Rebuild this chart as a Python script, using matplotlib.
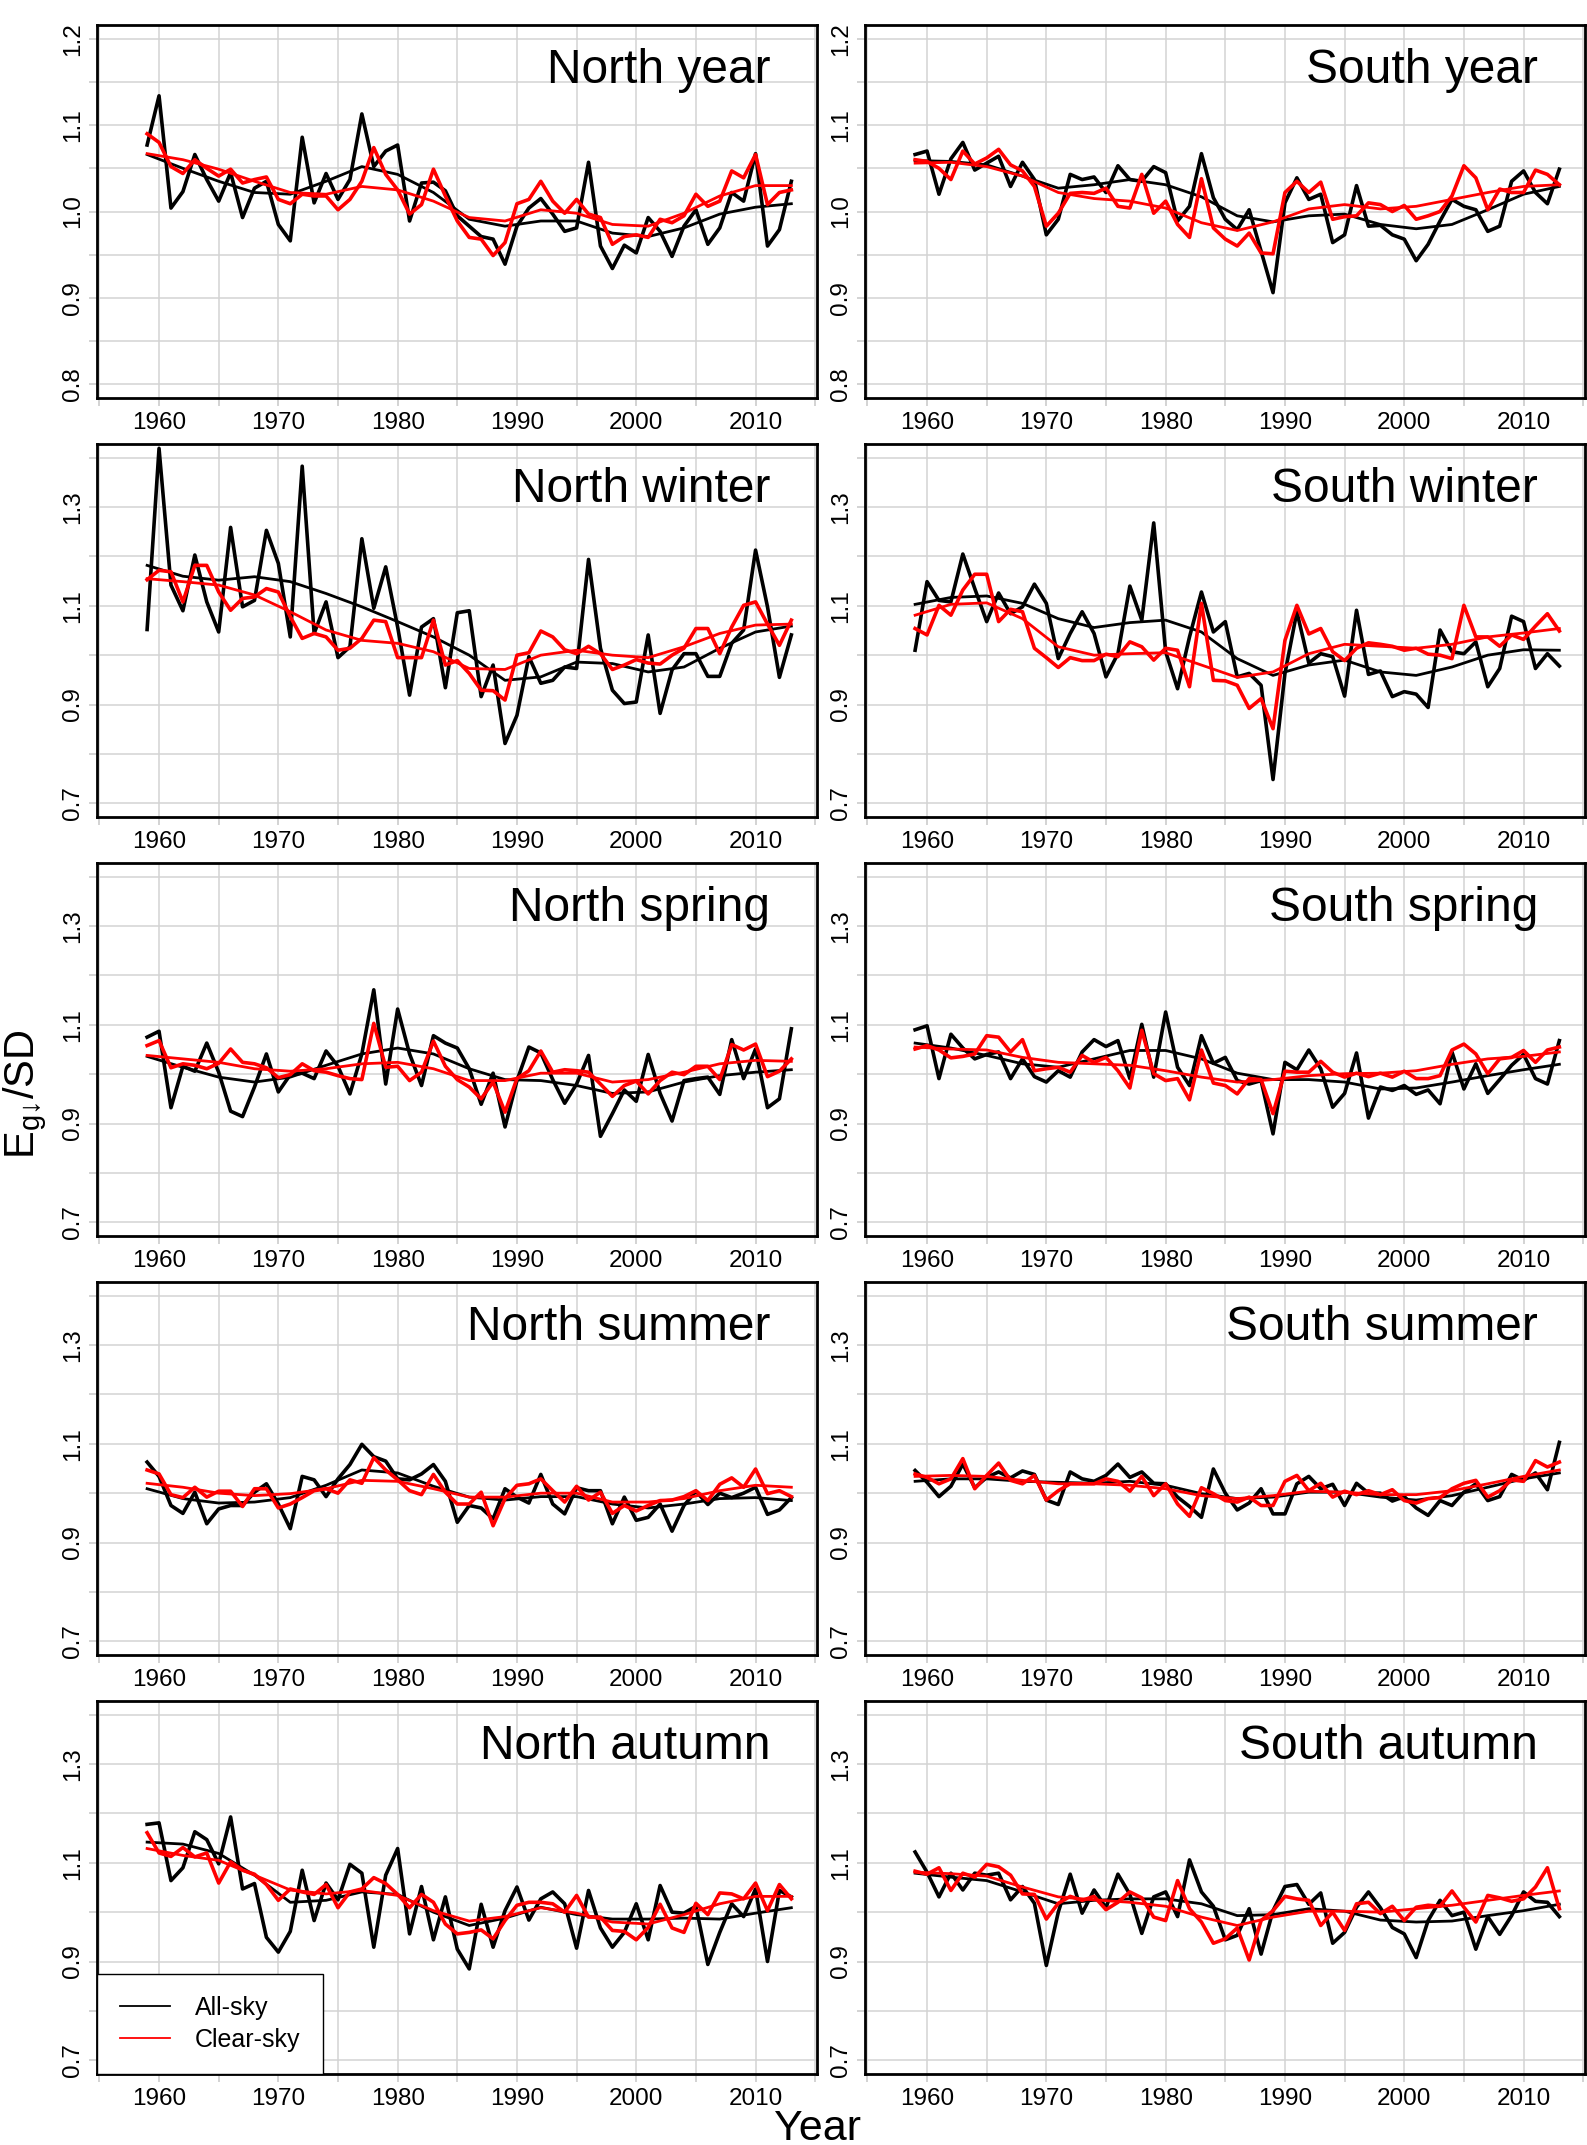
import numpy as np
import matplotlib
matplotlib.use('Agg')
import matplotlib.pyplot as plt
from matplotlib.lines import Line2D

plt.rcParams['font.family'] = ['Liberation Sans', 'DejaVu Sans']
plt.rcParams['mathtext.fontset'] = 'custom'
plt.rcParams['mathtext.rm'] = 'Liberation Sans'

years = np.arange(1959, 2014)
years_s = np.arange(1959, 2014, 3)

# North year
north_year_all = [1.077, 1.134, 1.004, 1.023, 1.066, 1.037, 1.012, 1.045, 0.993, 1.027,
                  1.035, 0.985, 0.966, 1.086, 1.010, 1.044, 1.014, 1.037, 1.113, 1.052,
                  1.070, 1.077, 0.989, 1.033, 1.034, 1.024, 0.995, 0.983, 0.971, 0.968,
                  0.939, 0.983, 1.004, 1.015, 0.997, 0.977, 0.981, 1.057, 0.960, 0.934,
                  0.961, 0.952, 0.993, 0.977, 0.948, 0.983, 1.002, 0.962, 0.981, 1.022,
                  1.012, 1.067, 0.960, 0.979, 1.035]
north_year_clear = [1.090, 1.080, 1.052, 1.044, 1.060, 1.050, 1.041, 1.049, 1.033, 1.037,
                    1.040, 1.014, 1.009, 1.020, 1.018, 1.018, 1.002, 1.014, 1.035, 1.074,
                    1.043, 1.025, 0.997, 1.008, 1.049, 1.018, 0.989, 0.970, 0.968, 0.949,
                    0.964, 1.009, 1.014, 1.035, 1.012, 0.998, 1.014, 0.997, 0.993, 0.962,
                    0.971, 0.973, 0.970, 0.991, 0.987, 0.995, 1.020, 1.006, 1.012, 1.047,
                    1.039, 1.066, 1.008, 1.022, 1.025]
north_year_all_s = [1.066, 1.050, 1.035, 1.022, 1.020, 1.035, 1.052, 1.043, 1.022, 0.991,
                    0.983, 0.989, 0.989, 0.975, 0.971, 0.981, 0.997, 1.005, 1.009]
north_year_clear_s = [1.067, 1.060, 1.049, 1.035, 1.022, 1.020, 1.029, 1.025, 1.012, 0.993,
                      0.989, 1.002, 0.998, 0.985, 0.983, 0.998, 1.018, 1.030, 1.030]

# South year
south_year_all = [1.066, 1.070, 1.020, 1.061, 1.080, 1.048, 1.056, 1.064, 1.029, 1.057,
                  1.037, 0.973, 0.991, 1.043, 1.037, 1.040, 1.022, 1.053, 1.037, 1.035,
                  1.052, 1.045, 0.989, 1.006, 1.067, 1.016, 0.991, 0.979, 1.002, 0.954,
                  0.906, 1.010, 1.039, 1.014, 1.020, 0.964, 0.973, 1.030, 0.983, 0.984,
                  0.973, 0.968, 0.943, 0.962, 0.989, 1.014, 1.006, 1.002, 0.977, 0.983,
                  1.035, 1.047, 1.022, 1.009, 1.049]
south_year_clear = [1.060, 1.058, 1.050, 1.037, 1.070, 1.055, 1.062, 1.072, 1.054, 1.047,
                    1.029, 0.983, 0.998, 1.021, 1.022, 1.021, 1.027, 1.006, 1.004, 1.043,
                    0.998, 1.012, 0.985, 0.970, 1.038, 0.981, 0.968, 0.960, 0.975, 0.952,
                    0.951, 1.022, 1.035, 1.022, 1.034, 0.991, 0.994, 0.995, 1.010, 1.008,
                    1.000, 1.007, 0.991, 0.995, 1.000, 1.018, 1.053, 1.039, 1.002, 1.026,
                    1.022, 1.022, 1.048, 1.043, 1.031]
south_year_all_s = [1.059, 1.058, 1.054, 1.041, 1.027, 1.031, 1.037, 1.031, 1.017, 0.995,
                    0.988, 0.995, 0.997, 0.985, 0.980, 0.985, 1.002, 1.020, 1.029]
south_year_clear_s = [1.056, 1.057, 1.052, 1.041, 1.022, 1.015, 1.012, 1.004, 0.987, 0.978,
                      0.988, 1.003, 1.008, 1.003, 1.006, 1.014, 1.022, 1.029, 1.031]

# North winter
north_winter_all = [1.052, 1.419, 1.142, 1.090, 1.203, 1.108, 1.047, 1.259, 1.098, 1.111,
                    1.253, 1.186, 1.037, 1.383, 1.044, 1.108, 0.995, 1.017, 1.236, 1.095,
                    1.179, 1.057, 0.919, 1.057, 1.074, 0.934, 1.086, 1.090, 0.916, 0.980,
                    0.821, 0.878, 0.997, 0.943, 0.949, 0.976, 0.973, 1.194, 1.014, 0.929,
                    0.902, 0.905, 1.041, 0.882, 0.970, 1.003, 1.003, 0.957, 0.957, 1.024,
                    1.051, 1.213, 1.098, 0.955, 1.041]
north_winter_clear = [1.153, 1.172, 1.169, 1.108, 1.182, 1.182, 1.128, 1.091, 1.115, 1.118,
                      1.135, 1.128, 1.078, 1.034, 1.044, 1.037, 1.010, 1.014, 1.034, 1.071,
                      1.068, 0.995, 0.995, 0.995, 1.071, 0.980, 0.989, 0.963, 0.929, 0.928,
                      0.909, 1.000, 1.005, 1.049, 1.037, 1.011, 1.003, 1.018, 1.003, 0.971,
                      0.980, 0.991, 0.984, 0.982, 1.000, 1.014, 1.054, 1.054, 1.003, 1.057,
                      1.101, 1.108, 1.063, 1.020, 1.071]
north_winter_all_s = [1.182, 1.160, 1.152, 1.159, 1.149, 1.125, 1.098, 1.068, 1.037, 1.000,
                      0.949, 0.956, 0.986, 0.983, 0.966, 0.976, 1.014, 1.047, 1.059]
north_winter_clear_s = [1.155, 1.149, 1.142, 1.122, 1.088, 1.051, 1.030, 1.024, 1.007, 0.973,
                        0.971, 1.000, 1.010, 1.000, 0.995, 1.017, 1.044, 1.061, 1.063]

# South winter
south_winter_all = [1.010, 1.149, 1.111, 1.108, 1.205, 1.135, 1.068, 1.126, 1.084, 1.098,
                    1.144, 1.105, 0.993, 1.044, 1.088, 1.044, 0.956, 1.003, 1.140, 1.071,
                    1.268, 1.007, 0.932, 1.037, 1.128, 1.047, 1.068, 0.956, 0.963, 0.939,
                    0.748, 0.963, 1.088, 0.984, 1.003, 0.997, 0.917, 1.091, 0.961, 0.968,
                    0.916, 0.926, 0.921, 0.894, 1.051, 1.007, 1.003, 1.027, 0.936, 0.973,
                    1.079, 1.068, 0.973, 1.003, 0.978]
south_winter_clear = [1.054, 1.041, 1.101, 1.081, 1.132, 1.164, 1.164, 1.068, 1.093, 1.088,
                      1.014, 0.995, 0.975, 0.995, 0.989, 0.989, 1.002, 0.997, 1.027, 1.017,
                      0.990, 1.014, 1.010, 0.936, 1.105, 0.949, 0.948, 0.939, 0.892, 0.912,
                      0.851, 1.030, 1.101, 1.043, 1.054, 1.007, 0.989, 1.014, 1.025, 1.022,
                      1.018, 1.010, 1.014, 1.002, 1.000, 0.993, 1.101, 1.037, 1.037, 1.018,
                      1.041, 1.032, 1.059, 1.084, 1.049]
south_winter_all_s = [1.103, 1.117, 1.120, 1.105, 1.074, 1.056, 1.066, 1.071, 1.047, 0.993,
                      0.959, 0.980, 0.990, 0.966, 0.959, 0.976, 1.000, 1.011, 1.010]
south_winter_clear_s = [1.081, 1.103, 1.106, 1.074, 1.017, 1.000, 1.003, 1.005, 0.980, 0.955,
                        0.966, 1.003, 1.022, 1.018, 1.014, 1.022, 1.037, 1.045, 1.054]

# North spring
north_spring_all = [1.075, 1.087, 0.932, 1.016, 1.006, 1.063, 1.004, 0.925, 0.914, 0.974,
                    1.041, 0.964, 0.999, 1.002, 0.991, 1.047, 1.016, 0.960, 1.041, 1.171,
                    0.980, 1.132, 1.041, 0.977, 1.078, 1.063, 1.053, 1.011, 0.939, 1.002,
                    0.893, 0.987, 1.055, 1.043, 0.989, 0.941, 0.980, 1.038, 0.874, 0.920,
                    0.968, 0.945, 1.040, 0.961, 0.905, 0.987, 0.991, 0.994, 0.959, 1.070,
                    0.991, 1.051, 0.932, 0.950, 1.092]
north_spring_clear = [1.058, 1.068, 1.013, 1.021, 1.018, 1.011, 1.022, 1.051, 1.024, 1.021,
                      1.013, 0.993, 0.999, 1.021, 1.007, 1.004, 0.997, 0.991, 0.989, 1.103,
                      1.014, 1.016, 0.987, 1.004, 1.067, 1.016, 0.989, 0.974, 0.950, 0.984,
                      0.923, 0.991, 1.007, 1.047, 1.004, 1.009, 1.007, 1.004, 0.980, 0.955,
                      0.977, 0.986, 0.960, 0.987, 1.004, 0.999, 1.016, 1.016, 0.989, 1.060,
                      1.049, 1.061, 0.995, 1.006, 1.031]
north_spring_all_s = [1.036, 1.014, 0.994, 0.984, 0.994, 1.018, 1.041, 1.053, 1.041, 1.011,
                      0.989, 0.987, 0.977, 0.961, 0.964, 0.984, 0.997, 1.004, 1.009]
north_spring_clear_s = [1.038, 1.031, 1.024, 1.011, 1.006, 1.011, 1.021, 1.024, 1.011, 0.987,
                        0.987, 1.002, 1.002, 0.984, 0.989, 1.004, 1.021, 1.028, 1.026]

# South spring
south_spring_all = [1.090, 1.098, 0.991, 1.081, 1.053, 1.031, 1.040, 1.045, 0.991, 1.031,
                    0.995, 0.984, 1.007, 0.994, 1.045, 1.070, 1.056, 1.068, 0.991, 1.101,
                    0.994, 1.126, 1.014, 0.977, 1.078, 1.022, 1.034, 0.987, 0.980, 0.987,
                    0.879, 1.024, 1.009, 1.049, 1.011, 0.933, 0.961, 1.043, 0.911, 0.974,
                    0.967, 0.977, 0.959, 0.968, 0.940, 1.045, 0.970, 1.021, 0.961, 0.989,
                    1.018, 1.040, 0.991, 0.980, 1.068]
south_spring_clear = [1.051, 1.058, 1.049, 1.033, 1.036, 1.041, 1.078, 1.075, 1.045, 1.070,
                      1.007, 1.011, 1.014, 1.004, 1.038, 1.024, 1.034, 1.007, 0.972, 1.089,
                      1.001, 0.987, 0.991, 0.948, 1.049, 0.982, 0.977, 0.960, 0.991, 0.989,
                      0.920, 1.006, 1.004, 1.004, 1.026, 1.004, 0.994, 1.002, 0.995, 1.002,
                      0.994, 1.006, 0.991, 0.991, 0.997, 1.049, 1.061, 1.041, 1.001, 1.031,
                      1.034, 1.048, 1.024, 1.049, 1.055]
south_spring_all_s = [1.063, 1.053, 1.038, 1.021, 1.014, 1.031, 1.048, 1.048, 1.031, 1.002,
                      0.989, 0.989, 0.984, 0.970, 0.972, 0.984, 0.997, 1.009, 1.020]
south_spring_clear_s = [1.055, 1.051, 1.049, 1.034, 1.024, 1.021, 1.018, 1.007, 0.994, 0.984,
                        0.989, 0.997, 1.001, 1.002, 1.007, 1.020, 1.031, 1.036, 1.045]

# North summer
north_summer_all = [1.063, 1.034, 0.975, 0.959, 1.002, 0.938, 0.968, 0.975, 0.975, 1.002,
                    1.019, 0.978, 0.928, 1.034, 1.027, 0.993, 1.029, 1.058, 1.099, 1.074,
                    1.065, 1.029, 1.027, 1.039, 1.058, 1.024, 0.941, 0.975, 0.970, 0.948,
                    1.009, 0.992, 0.980, 1.038, 0.978, 0.958, 1.011, 1.005, 1.005, 0.938,
                    0.992, 0.945, 0.951, 0.978, 0.923, 0.975, 1.004, 0.977, 1.000, 0.991,
                    1.000, 1.012, 0.957, 0.966, 0.991]
north_summer_clear = [1.047, 1.039, 0.997, 0.991, 1.012, 0.992, 1.004, 1.004, 0.973, 1.009,
                      1.009, 0.970, 0.978, 0.991, 1.005, 1.009, 1.000, 1.027, 1.020, 1.072,
                      1.047, 1.027, 1.005, 0.997, 1.038, 1.002, 0.978, 0.978, 1.002, 0.934,
                      0.989, 1.016, 1.019, 1.029, 1.005, 0.982, 1.014, 0.986, 1.002, 0.959,
                      0.975, 0.964, 0.975, 0.985, 0.986, 0.993, 1.005, 0.985, 1.018, 1.031,
                      1.012, 1.049, 0.999, 1.005, 0.993]
north_summer_all_s = [1.009, 0.989, 0.980, 0.982, 0.991, 1.016, 1.047, 1.041, 1.014, 0.992,
                      0.986, 0.993, 0.993, 0.978, 0.970, 0.978, 0.989, 0.991, 0.985]
north_summer_clear_s = [1.020, 1.012, 1.000, 0.995, 0.999, 1.009, 1.026, 1.024, 1.009, 0.992,
                        0.992, 1.000, 1.000, 0.982, 0.982, 0.989, 1.005, 1.016, 1.012]

# South summer
south_summer_all = [1.046, 1.022, 0.993, 1.014, 1.059, 1.011, 1.032, 1.043, 1.031, 1.045,
                    1.038, 0.986, 0.977, 1.043, 1.029, 1.024, 1.036, 1.059, 1.032, 1.043,
                    1.020, 1.019, 0.992, 0.973, 0.951, 1.049, 1.000, 0.966, 0.980, 1.009,
                    0.958, 0.958, 1.019, 1.034, 1.009, 1.018, 0.975, 1.020, 1.000, 1.000,
                    0.984, 0.993, 0.970, 0.955, 0.985, 0.975, 1.002, 1.019, 0.985, 0.993,
                    1.038, 1.026, 1.041, 1.007, 1.103]
south_summer_clear = [1.039, 1.032, 1.019, 1.029, 1.070, 1.009, 1.036, 1.061, 1.026, 1.019,
                      1.036, 0.986, 1.005, 1.019, 1.019, 1.019, 1.029, 1.024, 1.004, 1.034,
                      0.995, 1.019, 0.978, 0.953, 1.011, 0.999, 0.985, 0.982, 0.992, 0.975,
                      0.975, 1.024, 1.036, 1.005, 1.020, 0.992, 1.004, 0.997, 1.005, 0.997,
                      1.007, 0.985, 0.980, 0.989, 0.991, 1.009, 1.020, 1.026, 0.992, 1.005,
                      1.027, 1.024, 1.066, 1.053, 1.063]
south_summer_all_s = [1.024, 1.029, 1.029, 1.024, 1.022, 1.020, 1.024, 1.016, 0.999, 0.989,
                      0.992, 1.002, 1.002, 0.992, 0.986, 0.995, 1.012, 1.029, 1.041]
south_summer_clear_s = [1.034, 1.036, 1.034, 1.026, 1.019, 1.019, 1.016, 1.009, 0.995, 0.989,
                        0.995, 1.004, 1.002, 0.997, 0.997, 1.005, 1.019, 1.034, 1.047]

# North autumn
north_autumn_all = [1.178, 1.181, 1.064, 1.090, 1.163, 1.147, 1.098, 1.193, 1.047, 1.058,
                    0.949, 0.919, 0.961, 1.085, 0.983, 1.059, 1.025, 1.097, 1.079, 0.929,
                    1.075, 1.129, 0.956, 1.052, 0.944, 1.031, 0.925, 0.885, 1.016, 0.929,
                    1.003, 1.051, 0.984, 1.027, 1.041, 1.017, 0.927, 1.044, 0.968, 0.929,
                    0.959, 1.017, 0.944, 1.054, 1.000, 0.998, 1.012, 0.894, 0.959, 1.017,
                    0.991, 1.047, 0.900, 1.044, 1.031]
north_autumn_clear = [1.161, 1.120, 1.113, 1.131, 1.112, 1.120, 1.059, 1.102, 1.085, 1.077,
                      1.056, 1.024, 1.047, 1.041, 1.036, 1.056, 1.009, 1.041, 1.047, 1.070,
                      1.058, 1.036, 1.009, 1.036, 1.020, 0.976, 0.956, 0.959, 0.964, 0.946,
                      0.983, 1.014, 1.020, 1.020, 1.017, 1.000, 1.034, 0.990, 0.990, 0.963,
                      0.961, 0.944, 0.969, 1.016, 0.968, 0.959, 1.018, 0.995, 1.039, 1.037,
                      1.027, 1.059, 1.003, 1.056, 1.027]
north_autumn_all_s = [1.142, 1.138, 1.119, 1.075, 1.020, 1.024, 1.041, 1.036, 1.000, 0.973,
                      0.988, 1.010, 0.995, 0.986, 0.986, 0.988, 0.986, 0.998, 1.009]
north_autumn_clear_s = [1.129, 1.115, 1.105, 1.075, 1.045, 1.037, 1.044, 1.034, 1.003, 0.982,
                        0.991, 1.009, 0.998, 0.980, 0.976, 0.995, 1.017, 1.032, 1.032]

# South autumn
south_autumn_all = [1.122, 1.081, 1.031, 1.079, 1.045, 1.079, 1.075, 1.079, 1.025, 1.052,
                    1.018, 0.892, 1.000, 1.077, 0.998, 1.045, 1.009, 1.077, 1.036, 0.957,
                    1.031, 1.041, 0.991, 1.106, 1.041, 1.012, 0.944, 0.953, 1.007, 0.915,
                    1.003, 1.052, 1.056, 1.016, 1.039, 0.937, 0.959, 1.010, 1.041, 1.009,
                    0.969, 0.956, 0.908, 0.983, 1.024, 0.993, 1.000, 0.925, 0.991, 0.955,
                    0.993, 1.041, 1.022, 1.020, 0.991]
south_autumn_clear = [1.083, 1.077, 1.090, 1.044, 1.079, 1.071, 1.097, 1.092, 1.075, 1.037,
                      1.036, 0.986, 1.018, 1.032, 1.024, 1.032, 1.005, 1.020, 1.041, 1.029,
                      0.990, 0.983, 1.064, 1.007, 0.980, 0.937, 0.946, 0.968, 0.903, 0.983,
                      1.003, 1.032, 1.027, 1.024, 0.973, 1.000, 0.963, 1.017, 1.020, 0.997,
                      1.012, 0.983, 1.010, 1.014, 1.012, 1.043, 1.010, 0.980, 1.034, 1.029,
                      1.022, 1.027, 1.051, 1.090, 1.007]
south_autumn_all_s = [1.079, 1.071, 1.064, 1.041, 1.017, 1.024, 1.027, 1.027, 1.017, 0.993,
                      0.995, 1.007, 1.002, 0.984, 0.980, 0.982, 0.993, 1.003, 1.016]
south_autumn_clear_s = [1.081, 1.078, 1.073, 1.051, 1.031, 1.025, 1.020, 1.012, 0.990, 0.973,
                        0.990, 1.002, 1.002, 1.000, 1.007, 1.014, 1.024, 1.034, 1.043]

panels = [
    ('North year', north_year_all, north_year_clear, north_year_all_s, north_year_clear_s),
    ('South year', south_year_all, south_year_clear, south_year_all_s, south_year_clear_s),
    ('North winter', north_winter_all, north_winter_clear, north_winter_all_s, north_winter_clear_s),
    ('South winter', south_winter_all, south_winter_clear, south_winter_all_s, south_winter_clear_s),
    ('North spring', north_spring_all, north_spring_clear, north_spring_all_s, north_spring_clear_s),
    ('South spring', south_spring_all, south_spring_clear, south_spring_all_s, south_spring_clear_s),
    ('North summer', north_summer_all, north_summer_clear, north_summer_all_s, north_summer_clear_s),
    ('South summer', south_summer_all, south_summer_clear, south_summer_all_s, south_summer_clear_s),
    ('North autumn', north_autumn_all, north_autumn_clear, north_autumn_all_s, north_autumn_clear_s),
    ('South autumn', south_autumn_all, south_autumn_clear, south_autumn_all_s, south_autumn_clear_s),
]

W, H = 1587, 2145
fig = plt.figure(figsize=(W / 100, H / 100), dpi=100)

col_left = [97, 865]
col_width = 720
row_top = [25, 444, 863, 1282, 1701]
row_height = 373

xticks = np.arange(1955, 2016, 5)
xlabels = [str(t) if t % 10 == 0 else '' for t in xticks]

for i, (title, a, c, a_s, c_s) in enumerate(panels):
    r, k = divmod(i, 2)
    ax = fig.add_axes([col_left[k] / W, 1 - (row_top[r] + row_height) / H,
                       col_width / W, row_height / H])
    ax.set_axisbelow(True)
    ax.plot(years, a, color='black', lw=2.6, zorder=3)
    ax.plot(years_s, a_s, color='black', lw=2.0, zorder=3)
    ax.plot(years, c, color='red', lw=2.6, zorder=4)
    ax.plot(years_s, c_s, color='red', lw=2.0, zorder=4)

    ax.set_xlim(1954.8, 2015.15)
    ax.set_xticks(xticks)
    ax.set_xticklabels(xlabels)
    if r == 0:
        ax.set_ylim(0.784, 1.216)
        yt = np.round(np.arange(0.8, 1.2001, 0.05), 2)
        yl = ['%.1f' % v if abs(v * 10 - round(v * 10)) < 1e-6 else '' for v in yt]
    else:
        ax.set_ylim(0.672, 1.428)
        yt = np.round(np.arange(0.7, 1.4001, 0.1), 1)
        yl = ['0.7', '', '0.9', '', '1.1', '', '1.3', '']
    ax.set_yticks(yt)
    ax.set_yticklabels(yl, rotation=90, va='center')

    ax.grid(True, color='#d3d3d3', lw=1.1)
    ax.tick_params(axis='both', direction='out', length=5.5, width=1.1,
                   color='#c8c8c8', labelcolor='black', labelsize=17.5)
    ax.tick_params(axis='x', pad=4.5)
    ax.tick_params(axis='y', pad=4)
    for s in ax.spines.values():
        s.set_linewidth(2.0)
        s.set_color('black')

    ax.text(0.935, 0.845, title, transform=ax.transAxes, ha='right',
            va='baseline', fontsize=34.5)

    if i == 8:
        handles = [Line2D([], [], color='black', lw=1.3),
                   Line2D([], [], color='red', lw=1.3)]
        leg = ax.legend(handles, ['All-sky', 'Clear-sky'], loc='lower left',
                        bbox_to_anchor=(0, 0), borderaxespad=0, fancybox=False,
                        framealpha=1, edgecolor='black', fontsize=18,
                        handlelength=2.0, handletextpad=1.0, borderpad=0.9,
                        labelspacing=0.3)
        leg.get_frame().set_linewidth(1.0)
        leg.set_zorder(5)

fig.text(818 / W, 5 / H, 'Year', ha='center', va='baseline', fontsize=31)
fig.text(25 / W, 1 - 1094 / H, '$\\mathregular{E_{g\u2193}/SD}$', rotation=90,
         ha='center', va='center', fontsize=30)

fig.savefig('out.png', dpi=100)
